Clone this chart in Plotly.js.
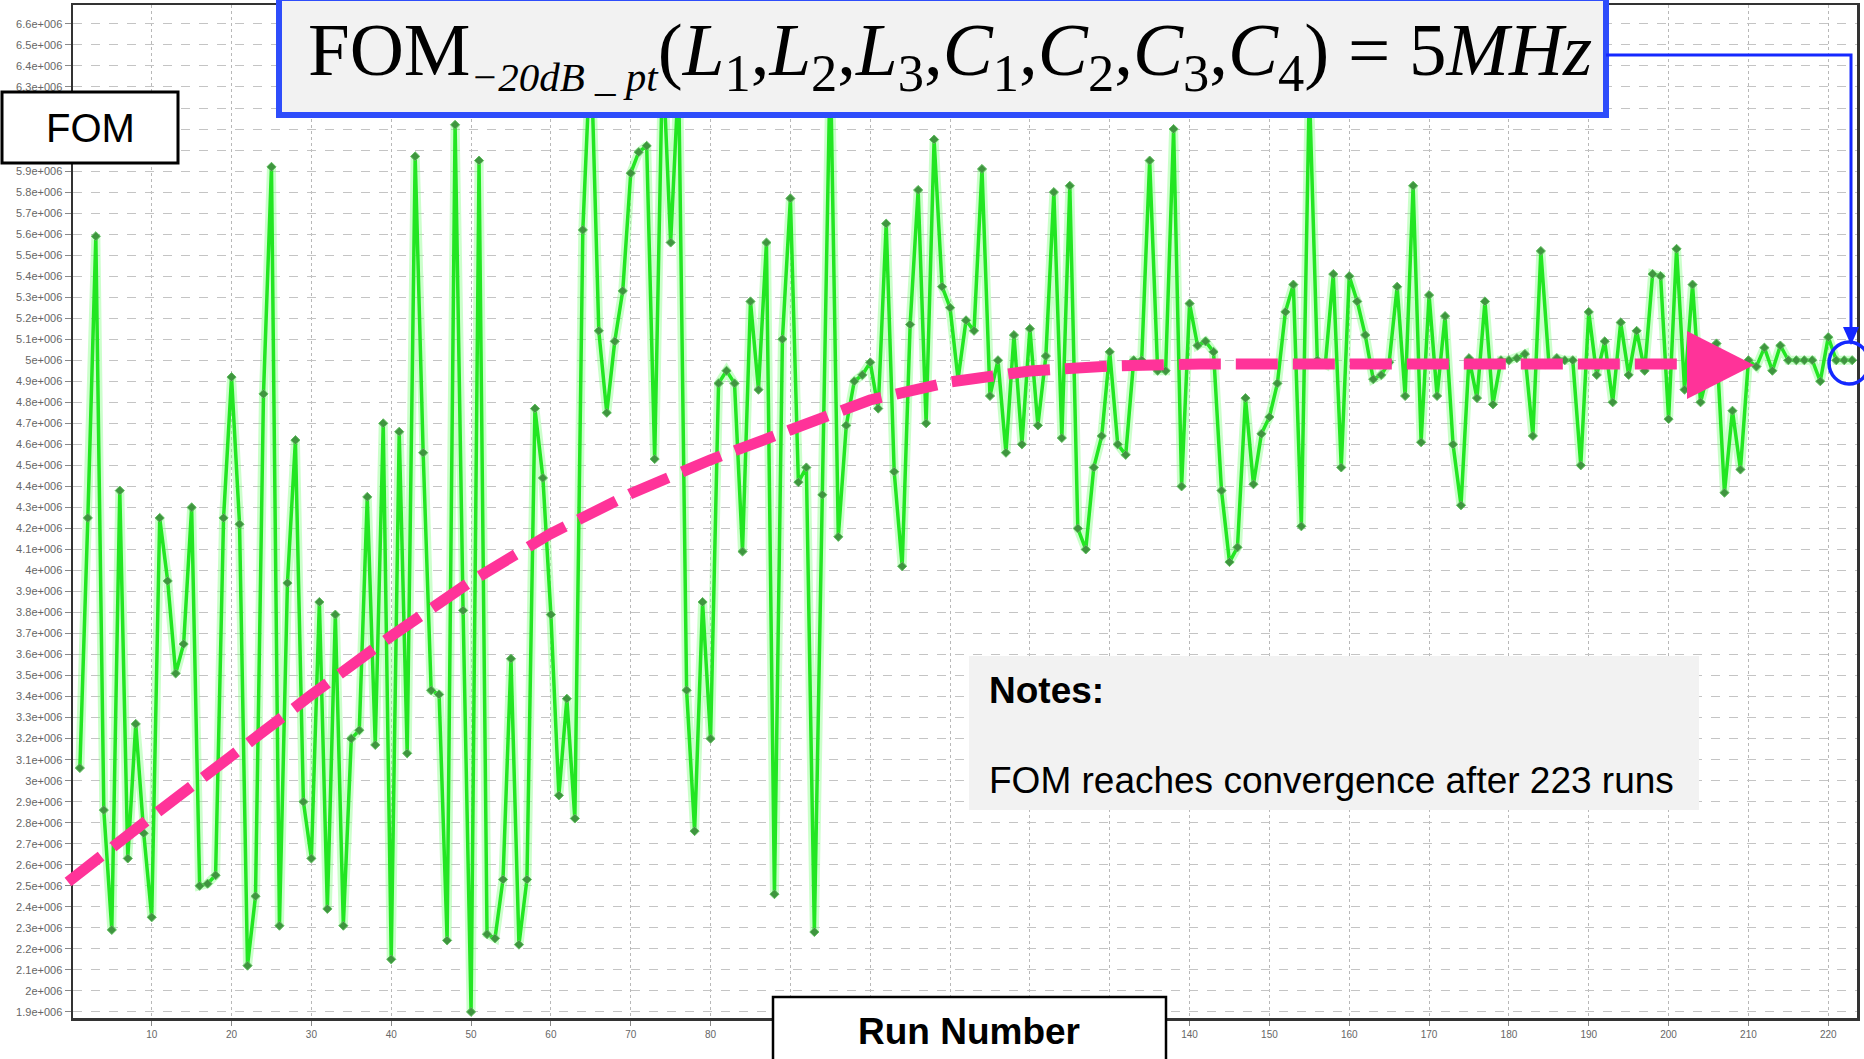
<!DOCTYPE html>
<html><head><meta charset="utf-8">
<script src="https://cdn.plot.ly/plotly-3.0.1.min.js"></script>
<style>html,body{margin:0;padding:0;background:#fff}#chart{width:1864px;height:1059px}</style>
</head><body><div id="chart"></div>
<script>
// FOM value of each run, in units of 1e6 (Hz)
const fomValues = [
3.06,4.25,5.59,2.86,2.29,4.38,2.63,3.27,2.75,2.35,
4.25,3.95,3.51,3.65,4.30,2.50,2.51,2.55,4.25,4.92,
4.22,2.12,2.45,4.84,5.92,2.31,3.94,4.62,2.90,2.63,
3.85,2.39,3.79,2.31,3.20,3.24,4.35,3.17,4.70,2.15,
4.66,3.13,5.97,4.56,3.43,3.41,2.24,6.12,3.81,1.90,
5.95,2.27,2.25,2.53,3.58,2.22,2.53,4.77,4.44,3.79,
2.93,3.39,2.82,5.62,6.50,5.14,4.75,5.09,5.33,5.89,
5.99,6.02,4.53,6.45,5.56,6.35,3.43,2.76,3.85,3.20,
4.89,4.95,4.89,4.09,5.28,4.86,5.56,2.46,5.10,5.77,
4.42,4.49,2.28,4.36,6.45,4.16,4.69,4.90,4.93,4.99,
4.77,5.65,4.47,4.02,5.17,5.81,4.70,6.05,5.35,5.25,
4.91,5.19,5.14,5.91,4.83,5.00,4.56,5.12,4.60,5.15,
4.69,5.02,5.80,4.63,5.83,4.20,4.10,4.49,4.64,5.04,
4.60,4.55,5.00,5.00,5.95,4.95,4.95,6.10,4.40,5.27,
5.07,5.09,5.04,4.38,4.04,4.11,4.82,4.41,4.65,4.73,
4.89,5.23,5.36,4.21,6.30,5.00,4.98,5.41,4.49,5.40,
5.28,5.12,4.91,4.93,4.99,5.35,4.83,5.83,4.61,5.31,
4.83,5.21,4.60,4.31,5.01,4.82,5.28,4.79,5.00,5.00,
5.01,5.03,4.64,5.52,4.99,5.01,5.00,5.00,4.50,5.23,
4.93,5.09,4.80,5.18,4.93,5.14,4.95,5.41,5.40,4.72,
5.53,4.86,5.36,4.80,4.95,5.08,4.37,4.76,4.48,5.00,
4.97,5.06,4.95,5.07,5.00,5.00,5.00,5.00,4.90,5.11,
5.00,5.00,5.00
];
const runNumbers = fomValues.map((v, i) => i + 1);

const xTickVals = [10,20,30,40,50,60,70,80,90,100,110,120,130,140,150,160,170,180,190,200,210,220];
// labels 90-130 sit under the "Run Number" box in the reference
const xTickText = ["10","20","30","40","50","60","70","80","","","","","","140","150","160","170","180","190","200","210","220"];
const yTickVals = [1.9,2.0,2.1,2.2,2.3,2.4,2.5,2.6,2.7,2.8,2.9,3.0,3.1,3.2,3.3,3.4,3.5,3.6,3.7,3.8,3.9,4.0,
  4.1,4.2,4.3,4.4,4.5,4.6,4.7,4.8,4.9,5.0,5.1,5.2,5.3,5.4,5.5,5.6,5.7,5.8,5.9,6.0,6.1,6.2,6.3,6.4,6.5,6.6];
// 6e+006 .. 6.2e+006 sit under the "FOM" box in the reference
const yTickText = ["1.9e+006","2e+006","2.1e+006","2.2e+006","2.3e+006","2.4e+006","2.5e+006","2.6e+006",
  "2.7e+006","2.8e+006","2.9e+006","3e+006","3.1e+006","3.2e+006","3.3e+006","3.4e+006","3.5e+006","3.6e+006",
  "3.7e+006","3.8e+006","3.9e+006","4e+006","4.1e+006","4.2e+006","4.3e+006","4.4e+006","4.5e+006","4.6e+006",
  "4.7e+006","4.8e+006","4.9e+006","5e+006","5.1e+006","5.2e+006","5.3e+006","5.4e+006","5.5e+006","5.6e+006",
  "5.7e+006","5.8e+006","5.9e+006","","","","6.3e+006","6.4e+006","6.5e+006","6.6e+006"];

const titleText = 'FOM<sub><span style="font-size:41px"><i>\u221220dB _ pt</i></span></sub>(<i>L</i><sub>1</sub>,<i>L</i><sub>2</sub>,<i>L</i><sub>3</sub>,<i>C</i><sub>1</sub>,<i>C</i><sub>2</sub>,<i>C</i><sub>3</sub>,<i>C</i><sub>4</sub>) = 5<i>MHz</i>';
const yLabel = 'FOM';
const xLabel = 'Run Number';
const notesTitle = 'Notes:';
const notesText = 'FOM reaches convergence after 223 runs';

// page geometry helpers (pixel -> paper)
const L = 73, R = 1857, T = 5, B = 1018;
const px = X => (X - L) / (R - L);
const py = Y => (B - Y) / (B - T);
const pathFrom = (pts, close) => pts.map((p, i) => (i ? 'L' : 'M') + px(p[0]).toFixed(5) + ',' + py(p[1]).toFixed(5)).join(' ') + (close ? ' Z' : '');

const trendPts = [[68,882],[150,818],[230,757],[310,696],[390,637],[470,582],[550,534],[630,494],[710,460],
  [790,430],[870,400],[950,382],[1030,371],[1110,366],[1200,364],[1690,364]];
const trendHead = [[1687,331],[1687,399],[1754,365]];
const bluePath = [[1606,55],[1851,55],[1851,333]];
const blueHead = [[1843,327],[1859,327],[1851,345]];

const traces = [
  {x: runNumbers, y: fomValues, type: 'scatter', mode: 'lines', hoverinfo: 'skip', showlegend: false,
   line: {color: 'rgba(140,255,140,0.45)', width: 9}},
  {x: runNumbers, y: fomValues, type: 'scatter', mode: 'lines+markers', showlegend: false,
   line: {color: '#22e622', width: 3.5},
   marker: {symbol: 'diamond', size: 7, color: '#3f953f', line: {color: '#5fbf5f', width: 1}}}
];

const layout = {
  width: 1864, height: 1059,
  margin: {l: L, r: 1864 - R, t: T, b: 1059 - B, pad: 0},
  paper_bgcolor: '#ffffff', plot_bgcolor: '#ffffff',
  font: {family: 'Liberation Sans, Arial, sans-serif', color: '#000'},
  xaxis: {range: [0.14, 223.6], tickvals: xTickVals, ticktext: xTickText, ticks: 'outside', ticklen: 5, tickcolor: '#888',
    tickfont: {size: 10, color: '#666'}, showgrid: true, gridcolor: '#b8b8b8', griddash: 'dot', gridwidth: 1,
    zeroline: false, showline: true, linecolor: '#333', linewidth: 2.5, mirror: true},
  yaxis: {range: [1.871, 6.69], tickvals: yTickVals, ticktext: yTickText, ticks: 'outside', ticklen: 6, tickcolor: '#888',
    tickfont: {size: 11, color: '#666'}, showgrid: true, gridcolor: '#c4c4c4', griddash: 'dash', gridwidth: 1,
    zeroline: false, showline: true, linecolor: '#333', linewidth: 2.5, mirror: true},
  shapes: [
    {type: 'rect', xref: 'paper', yref: 'paper', x0: px(969), x1: px(1699), y0: py(810), y1: py(656),
     fillcolor: '#f2f2f2', line: {width: 0}, layer: 'above'},
    {type: 'path', xref: 'paper', yref: 'paper', path: pathFrom(trendPts, false),
     line: {color: '#ff3399', width: 11, dash: '42px,15px'}, layer: 'above'},
    {type: 'path', xref: 'paper', yref: 'paper', path: pathFrom(trendHead, true),
     fillcolor: '#ff3399', line: {width: 0}, layer: 'above'},
    {type: 'rect', xref: 'paper', yref: 'paper', x0: px(279), x1: px(1606), y0: py(115), y1: py(-2),
     fillcolor: '#f2f2f2', line: {color: '#2e4dfb', width: 6}, layer: 'above'},
    {type: 'path', xref: 'paper', yref: 'paper', path: pathFrom(bluePath, false),
     line: {color: '#1428ff', width: 3}, layer: 'above'},
    {type: 'path', xref: 'paper', yref: 'paper', path: pathFrom(blueHead, true),
     fillcolor: '#1428ff', line: {width: 0}, layer: 'above'},
    {type: 'circle', xref: 'paper', yref: 'paper', x0: px(1829), x1: px(1869), y0: py(384), y1: py(342),
     line: {color: '#1428ff', width: 3.5}, layer: 'above'},
    {type: 'rect', xref: 'paper', yref: 'paper', x0: px(2), x1: px(178), y0: py(163), y1: py(92),
     fillcolor: '#ffffff', line: {color: '#000', width: 3}, layer: 'above'},
    {type: 'rect', xref: 'paper', yref: 'paper', x0: px(773), x1: px(1166), y0: py(1066), y1: py(997),
     fillcolor: '#ffffff', line: {color: '#000', width: 2.5}, layer: 'above'}
  ],
  annotations: [
    {xref: 'paper', yref: 'paper', x: px(950), y: py(55), xanchor: 'center', yanchor: 'middle', showarrow: false,
     text: titleText, font: {family: 'Liberation Serif, Times New Roman, serif', size: 75, color: '#000'}},
    {xref: 'paper', yref: 'paper', x: px(90), y: py(128), xanchor: 'center', yanchor: 'middle', showarrow: false,
     text: yLabel, font: {size: 40, color: '#000'}},
    {xref: 'paper', yref: 'paper', x: px(969), y: py(1031), xanchor: 'center', yanchor: 'middle', showarrow: false,
     text: '<b>' + xLabel + '</b>', font: {size: 37, color: '#000'}},
    {xref: 'paper', yref: 'paper', x: px(987), y: py(690), xanchor: 'left', yanchor: 'middle', showarrow: false,
     text: '<b>' + notesTitle + '</b>', font: {size: 37, color: '#000'}},
    {xref: 'paper', yref: 'paper', x: px(987), y: py(780), xanchor: 'left', yanchor: 'middle', showarrow: false,
     text: notesText, font: {size: 37, color: '#000'}}
  ]
};

Plotly.newPlot('chart', traces, layout, {displayModeBar: false, staticPlot: true});
</script>
</body></html>
